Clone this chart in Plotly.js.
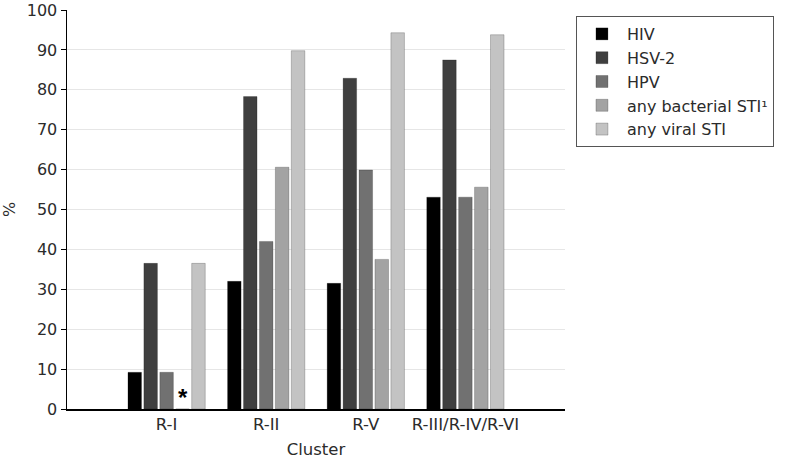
<!DOCTYPE html>
<html>
<head>
<meta charset="utf-8">
<script src="https://cdn.plot.ly/plotly-3.0.1.min.js"></script>
<style>html,body{margin:0;padding:0;background:#fff;}#chart{width:789px;height:459px;}</style>
</head>
<body>
<div id="chart"></div>
<script>
const clusters = ["R-I", "R-II", "R-V", "R-III/R-IV/R-VI"];
const seriesNames = ["HIV", "HSV-2", "HPV", "any bacterial STI\u00b9", "any viral STI"];
const hiv = [9.2, 32.0, 31.5, 53.1];
const hsv2 = [36.5, 78.3, 82.9, 87.5];
const hpv = [9.2, 42.0, 59.9, 53.1];
const bacterial = [0, 60.6, 37.5, 55.6];
const viral = [36.5, 89.8, 94.3, 93.8];
const colors = ["#000000", "#3f3f3f", "#717171", "#a3a3a3", "#c3c3c3"];
const yTicks = [0, 10, 20, 30, 40, 50, 60, 70, 80, 90, 100];

const allSeries = [hiv, hsv2, hpv, bacterial, viral];
const traces = allSeries.map((vals, i) => ({
  type: "bar",
  name: seriesNames[i],
  x: clusters,
  y: vals,
  marker: {color: colors[i], line: {color: "rgba(0,0,0,0.35)", width: 0.6}}
}));

const FONT = "DejaVu Sans, Liberation Sans, Arial, sans-serif";
const layout = {
  width: 789, height: 459,
  margin: {l: 67, r: 224, t: 10, b: 50},
  paper_bgcolor: "#fff", plot_bgcolor: "#fff",
  barmode: "group", bargap: 0.2, bargroupgap: 0.15,
  font: {family: FONT, color: "#2b2b2b", size: 16},
  xaxis: {
    type: "category", range: [-1, 4],
    showline: true, linecolor: "#000", linewidth: 1.5,
    ticks: "", showgrid: false, zeroline: false,
    tickfont: {size: 16.5, color: "#2b2b2b"},
    title: {text: "Cluster", font: {size: 16.5, color: "#2b2b2b"}, standoff: 10}
  },
  yaxis: {
    range: [0, 100], tickvals: yTicks,
    showline: true, linecolor: "#000", linewidth: 1.5,
    ticks: "outside", ticklen: 5, tickcolor: "#000",
    showgrid: true, gridcolor: "#e6e6e6", zeroline: false,
    tickfont: {size: 16, color: "#2b2b2b"},
    title: {text: "%", font: {size: 16, color: "#2b2b2b"}, standoff: 12}
  },
  legend: {
    x: 1.022, y: 0.985, xanchor: "left", yanchor: "top",
    bordercolor: "#555", borderwidth: 1, bgcolor: "#fff",
    font: {size: 16, color: "#2b2b2b"},
    itemwidth: 40, tracegroupgap: 0
  },
  annotations: [{
    x: clusters[0], y: 0, xref: "x", yref: "y",
    text: "<b>*</b>", showarrow: false, yanchor: "bottom", xshift: 16, yshift: -4,
    font: {size: 24, color: "#000", family: "Liberation Sans, Arial, sans-serif"}
  }],
  showlegend: true
};

Plotly.newPlot("chart", traces, layout, {displayModeBar: false, staticPlot: true});
</script>
</body>
</html>
